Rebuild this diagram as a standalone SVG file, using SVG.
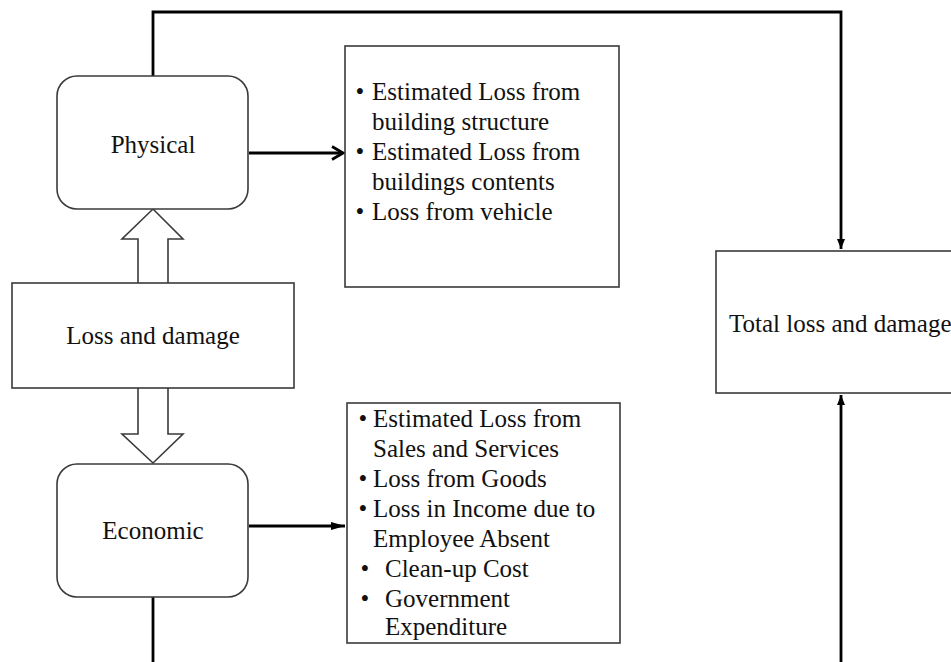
<svg xmlns="http://www.w3.org/2000/svg" width="951" height="662" viewBox="0 0 951 662">
<style>
.box{fill:#fff;stroke:#3a3a3a;stroke-width:1.6}
.conn{fill:none;stroke:#000;stroke-width:2.8}
.t{font-family:"Liberation Serif","Times New Roman",serif;font-size:25px;fill:#111}
.c{text-anchor:middle}
</style>
<defs>
<marker id="tri" markerWidth="10" markerHeight="10" viewBox="0 0 10 10" refX="10" refY="5" orient="auto" markerUnits="userSpaceOnUse">
<path d="M0,1 L10,5 L0,9 Z" fill="#000"/>
</marker>
<marker id="tri2" markerWidth="14" markerHeight="10" viewBox="0 0 14 10" refX="14" refY="5" orient="auto" markerUnits="userSpaceOnUse">
<path d="M0,1 L14,5 L0,9 Z" fill="#000"/>
</marker>
<marker id="chev" markerWidth="14" markerHeight="16" viewBox="0 0 14 16" refX="12" refY="8" orient="auto" markerUnits="userSpaceOnUse">
<path d="M1,1.5 L12,8 L1,14.5" fill="none" stroke="#000" stroke-width="2.8"/>
</marker>
</defs>
<rect width="951" height="662" fill="#fff"/>
<g id="connectors">
<polyline class="conn" points="153,76 153,12 841,12 841,249" marker-end="url(#tri)"/>
<line class="conn" x1="249" y1="153" x2="343" y2="153" marker-end="url(#chev)"/>
<line class="conn" x1="249" y1="526" x2="345" y2="526" marker-end="url(#tri2)"/>
<line class="conn" x1="153" y1="597" x2="153" y2="662"/>
<line class="conn" x1="841" y1="662" x2="841" y2="395" marker-end="url(#tri)"/>
<path class="box" d="M138,283 L138,239 L122,239 L153,209 L183,239 L168,239 L168,283"/>
<path class="box" d="M138,388 L138,434 L122,434 L153,463 L183,434 L168,434 L168,388"/>
</g>
<g id="physical">
<rect class="box" x="57" y="76" width="191" height="133" rx="20" ry="20"/>
<text class="t c" x="153" y="153">Physical</text>
</g>
<g id="loss-damage">
<rect class="box" x="12" y="283" width="282" height="105"/>
<text class="t c" x="153" y="344">Loss and damage</text>
</g>
<g id="economic">
<rect class="box" x="57" y="464" width="191" height="133" rx="20" ry="20"/>
<text class="t c" x="153" y="539">Economic</text>
</g>
<g id="physical-list">
<rect class="box" x="345" y="46" width="274" height="241"/>
<text class="t c" x="360" y="100">•</text>
<text class="t" x="372" y="100">Estimated Loss from</text>
<text class="t" x="372" y="130">building structure</text>
<text class="t c" x="360" y="160">•</text>
<text class="t" x="372" y="160">Estimated Loss from</text>
<text class="t" x="372" y="190">buildings contents</text>
<text class="t c" x="360" y="220">•</text>
<text class="t" x="372" y="220">Loss from vehicle</text>
</g>
<g id="economic-list">
<rect class="box" x="347" y="403" width="273" height="240"/>
<text class="t c" x="363" y="427">•</text>
<text class="t" x="373" y="427">Estimated Loss from</text>
<text class="t" x="373" y="457">Sales and Services</text>
<text class="t c" x="363" y="487">•</text>
<text class="t" x="373" y="487">Loss from Goods</text>
<text class="t c" x="363" y="517">•</text>
<text class="t" x="373" y="517">Loss in Income due to</text>
<text class="t" x="373" y="547">Employee Absent</text>
<text class="t c" x="365" y="577">•</text>
<text class="t" x="385" y="577">Clean-up Cost</text>
<text class="t c" x="365" y="607">•</text>
<text class="t" x="385" y="607">Government</text>
<text class="t" x="385" y="635">Expenditure</text>
</g>
<g id="total">
<rect class="box" x="716" y="251" width="240" height="142"/>
<text class="t" x="729" y="332">Total loss and damage</text>
</g>
</svg>
